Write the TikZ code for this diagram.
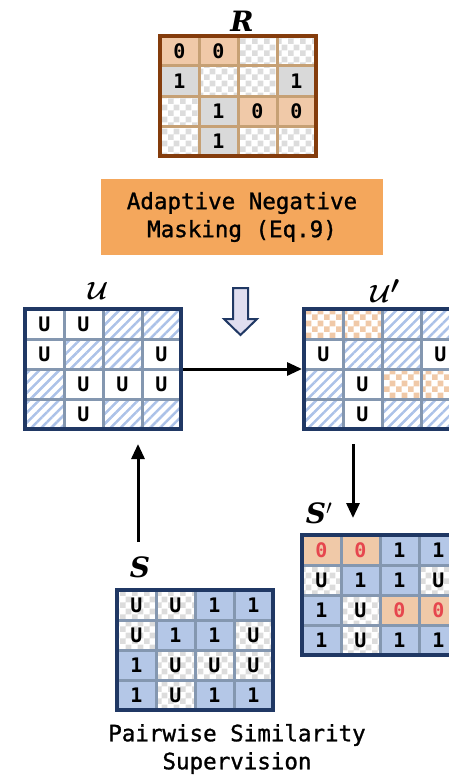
\documentclass[tikz,border=0pt]{standalone}
\usepackage{amsmath,amssymb,bm}
\usepackage{fontspec}
\setmonofont{DejaVu Sans Mono}
\newfontfamily\labfont{DejaVu Serif}
\newfontfamily\medmono[FakeBold=1.2]{DejaVu Sans Mono}
\usepackage{tikz}
\usetikzlibrary{arrows.meta,positioning,calc,patterns,patterns.meta}
\definecolor{rbord}{RGB}{132,60,12}
\definecolor{rgrid}{RGB}{198,160,116}
\definecolor{peach}{RGB}{240,201,168}
\definecolor{cellgray}{RGB}{217,217,217}
\definecolor{chkgray}{RGB}{220,220,220}
\definecolor{cellblue}{RGB}{180,199,231}
\definecolor{hatchblue}{RGB}{172,194,232}
\definecolor{frameblue}{RGB}{32,56,100}
\definecolor{gridblue}{RGB}{132,151,176}
\definecolor{maskorange}{RGB}{244,167,92}
\definecolor{zred}{RGB}{230,70,78}
\definecolor{lav}{RGB}{224,222,240}
\pgfdeclarepatternformonly{chess}{\pgfpointorigin}{\pgfqpoint{12pt}{12pt}}{\pgfqpoint{12pt}{12pt}}{%
  \pgfpathrectangle{\pgfpointorigin}{\pgfqpoint{6pt}{6pt}}%
  \pgfpathrectangle{\pgfqpoint{6pt}{6pt}}{\pgfqpoint{6pt}{6pt}}%
  \pgfusepath{fill}}
\tikzstyle{cell}=[minimum width=39pt,minimum height=30pt,inner sep=0pt,font=\ttfamily\bfseries\fontsize{20}{20}\selectfont]
\tikzstyle{emp}=[cell,fill=white]
\tikzstyle{gry}=[cell,fill=cellgray]
\tikzstyle{pch}=[cell,fill=peach]
\tikzstyle{pcr}=[cell,fill=peach,text=zred]
\tikzstyle{blu}=[cell,fill=cellblue]
\tikzstyle{chk}=[cell,fill=white,pattern=chess,pattern color=chkgray]
\tikzstyle{och}=[cell,fill=white,pattern=chess,pattern color=peach]
\tikzstyle{hat}=[cell,fill=white,pattern={Lines[angle=45,distance=7pt,line width=2.5pt]},pattern color=hatchblue]
\tikzstyle{rline}=[draw=rgrid,line width=3pt]
\tikzstyle{bline}=[draw=gridblue,line width=3pt]
\tikzstyle{rframe}=[draw=rbord,line width=4pt,minimum width=156pt,minimum height=120pt,inner sep=0pt]
\tikzstyle{bframe}=[draw=frameblue,line width=4pt,minimum width=156pt,minimum height=120pt,inner sep=0pt]
\tikzstyle{lab}=[inner sep=0pt,font=\labfont\bfseries\itshape\fontsize{28}{28}\selectfont]
\tikzstyle{cal}=[inner sep=0pt,font=\fontsize{34}{34}\selectfont]
\tikzstyle{txt}=[align=center,inner sep=0pt,font=\medmono\fontsize{22.5}{28}\selectfont]
\tikzstyle{arr}=[line width=3pt,-{Triangle[length=15pt,width=13pt]}]

\begin{document}
\begin{tikzpicture}[x=1pt,y=-1pt]
\useasboundingbox (0,0) rectangle (449,776);
\clip (0,0) rectangle (449,776);

% R
\foreach \row [count=\i] in {{pch/0,pch/0,chk/{},chk/{}},{gry/1,chk/{},chk/{},gry/1},{chk/{},gry/1,pch/0,pch/0},{chk/{},gry/1,chk/{},chk/{}}}
  \foreach \s/\t [count=\j] in \row
    \node[\s] (r\i\j) at (160+\j*39-19.5,36+\i*30-15) {\t};
\foreach \k in {1,2,3} {
  \draw[rline] (160+\k*39,36) -- ++(0,120);
  \draw[rline] (160,36+\k*30) -- ++(156,0);
}
\node[rframe] (R) at (238,96) {};
\node[lab] (rlab) at (242,21) {R};

\node[fill=maskorange,minimum width=282pt,minimum height=76pt,txt] (mask) at (242,217) {Adaptive Negative\\Masking (Eq.9)};

\draw[draw=frameblue,fill=lav,line width=2pt,line join=miter] (233,288) -- (248,288) -- (248,319) -- (257,319) -- (240.5,335) -- (224,319) -- (233,319) -- cycle;

% U
\foreach \row [count=\i] in {{emp/U,emp/U,hat/{},hat/{}},{emp/U,hat/{},hat/{},emp/U},{hat/{},emp/U,emp/U,emp/U},{hat/{},emp/U,hat/{},hat/{}}}
  \foreach \s/\t [count=\j] in \row
    \node[\s] (u\i\j) at (25+\j*39-19.5,309+\i*30-15) {\t};
\foreach \k in {1,2,3} {
  \draw[bline] (25+\k*39,309) -- ++(0,120);
  \draw[bline] (25,309+\k*30) -- ++(156,0);
}
\node[bframe] (U) at (103,369) {};
\node[cal] (ulab) at (98,291) {$\bm{\mathcal{U}}$};

% U'
\foreach \row [count=\i] in {{och/{},och/{},hat/{},hat/{}},{emp/U,hat/{},hat/{},emp/U},{hat/{},emp/U,och/{},och/{}},{hat/{},emp/U,hat/{},hat/{}}}
  \foreach \s/\t [count=\j] in \row
    \node[\s] (v\i\j) at (304+\j*39-19.5,309+\i*30-15) {\t};
\foreach \k in {1,2,3} {
  \draw[bline] (304+\k*39,309) -- ++(0,120);
  \draw[bline] (304,309+\k*30) -- ++(156,0);
}
\node[bframe] (Up) at (382,369) {};
\node[cal] (uplab) at (385,291) {$\bm{\mathcal{U}'}$};

% S'
\foreach \row [count=\i] in {{pcr/0,pcr/0,blu/1,blu/1},{chk/U,blu/1,blu/1,chk/U},{blu/1,chk/U,pcr/0,pcr/0},{blu/1,chk/U,blu/1,blu/1}}
  \foreach \s/\t [count=\j] in \row
    \node[\s] (t\i\j) at (302+\j*39-19.5,535+\i*30-15) {\t};
\foreach \k in {1,2,3} {
  \draw[bline] (302+\k*39,535) -- ++(0,120);
  \draw[bline] (302,535+\k*30) -- ++(156,0);
}
\node[bframe] (Sp) at (380,595) {};
\node[lab] (splab) at (319,513) {S$'$};

% S
\foreach \row [count=\i] in {{chk/U,chk/U,blu/1,blu/1},{chk/U,blu/1,blu/1,chk/U},{blu/1,chk/U,chk/U,chk/U},{blu/1,chk/U,blu/1,blu/1}}
  \foreach \s/\t [count=\j] in \row
    \node[\s] (s\i\j) at (117+\j*39-19.5,590+\i*30-15) {\t};
\foreach \k in {1,2,3} {
  \draw[bline] (117+\k*39,590) -- ++(0,120);
  \draw[bline] (117,590+\k*30) -- ++(156,0);
}
\node[bframe] (S) at (195,650) {};
\node[lab] (slab) at (140,567) {S};

\node[txt] (sup) at (237,749) {Pairwise Similarity\\Supervision};

% arrows
\coordinate (sa) at (138,542);
\coordinate (da) at (353,518);
\draw[arr] (U) -- (Up);
\draw[arr,shorten >=13pt] (sa) -- (sa |- U.south);
\draw[arr,shorten <=13pt] (da |- Up.south) -- (da);
\end{tikzpicture}
\end{document}
